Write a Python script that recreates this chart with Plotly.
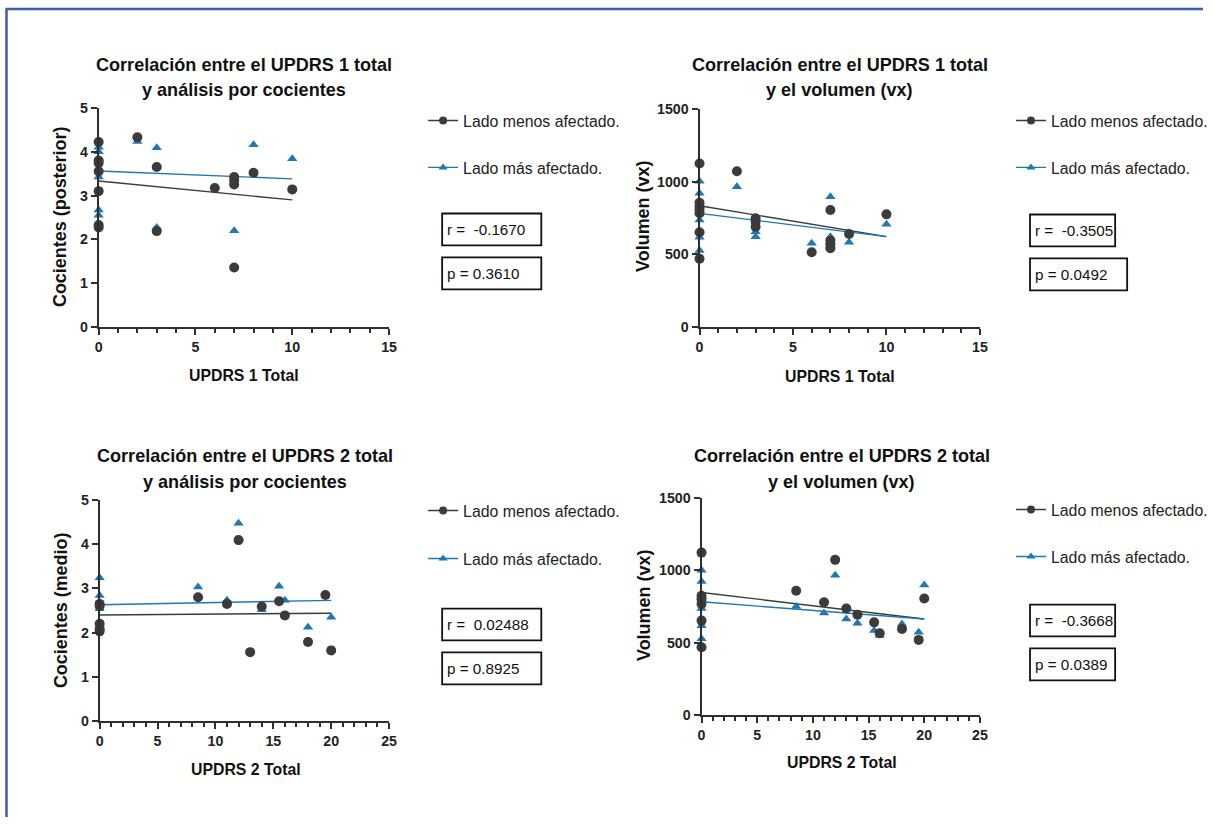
import plotly.graph_objects as go

# ---- data -------------------------------------------------------------
# Panel 1: UPDRS 1 total vs cocientes (posterior)
p1_menos_x = [0, 0, 0, 0, 0, 0, 0, 2, 3, 3, 6, 7, 7, 7, 7, 8, 10]
p1_menos_y = [4.22, 3.80, 3.74, 3.55, 3.10, 2.33, 2.27, 4.33, 3.65, 2.19, 3.17, 3.42, 3.35, 3.25, 1.36, 3.52, 3.14]
p1_mas_x = [0, 0, 0, 0, 0, 2, 3, 3, 7, 8, 10]
p1_mas_y = [4.10, 4.00, 3.42, 2.67, 2.55, 4.23, 4.09, 2.27, 2.20, 4.16, 3.84]

# Panel 2: UPDRS 1 total vs volumen (vx)
p2_menos_x = [0, 0, 0, 0, 0, 0, 0, 2, 3, 3, 3, 6, 7, 7, 7, 7, 8, 10]
p2_menos_y = [1124, 855, 827, 805, 782, 652, 470, 1071, 748, 725, 690, 515, 805, 595, 570, 543, 640, 775]
p2_mas_x = [0, 0, 0, 0, 0, 2, 3, 3, 6, 7, 7, 7, 8, 10]
p2_mas_y = [1003, 919, 736, 618, 527, 964, 656, 622, 577, 896, 622, 560, 584, 707]

# Panel 3: UPDRS 2 total vs cocientes (medio)
p3_menos_x = [0, 0, 0, 0, 0, 8.5, 11, 12, 13, 14, 15.5, 16, 18, 19.5, 20]
p3_menos_y = [2.65, 2.60, 2.20, 2.09, 2.03, 2.80, 2.65, 4.09, 1.56, 2.59, 2.71, 2.39, 1.79, 2.85, 1.60]
p3_mas_x = [0, 0, 0, 8.5, 11, 12, 14, 15.5, 16, 18, 20]
p3_mas_y = [3.24, 2.84, 2.54, 3.03, 2.73, 4.47, 2.52, 3.05, 2.73, 2.12, 2.35]

# Panel 4: UPDRS 2 total vs volumen (vx)
p4_menos_x = [0, 0, 0, 0, 0, 0, 8.5, 11, 12, 13, 14, 15.5, 16, 18, 19.5, 20]
p4_menos_y = [1122, 824, 801, 767, 653, 469, 859, 779, 1072, 737, 694, 641, 566, 595, 520, 806]
p4_mas_x = [0, 0, 0, 0, 0, 8.5, 11, 12, 13, 14, 15.5, 16, 18, 19.5, 20]
p4_mas_y = [1001, 923, 737, 618, 527, 751, 705, 966, 664, 634, 584, 550, 630, 573, 898]

# Linear fits (intercept, slope) per panel: [menos afectado, más afectado]
fit_intercepts = [[3.33, 3.56], [834, 782], [2.40, 2.63], [847, 783]]
fit_slopes = [[-0.043, -0.018], [-21.2, -16.0], [0.002, 0.005], [-9.15, -5.95]]
fit_x_max = [10, 10, 20, 20]

r_values = ["-0.1670", "-0.3505", "0.02488", "-0.3668"]
p_values = ["0.3610", "0.0492", "0.8925", "0.0389"]

titles = [
    ("Correlación entre el UPDRS 1 total", "y análisis por cocientes"),
    ("Correlación entre el UPDRS 1 total", "y el volumen (vx)"),
    ("Correlación entre el UPDRS 2 total", "y análisis por cocientes"),
    ("Correlación entre el UPDRS 2 total", "y el volumen (vx)"),
]
x_titles = ["UPDRS 1 Total", "UPDRS 1 Total", "UPDRS 2 Total", "UPDRS 2 Total"]
y_titles = ["Cocientes (posterior)", "Volumen (vx)", "Cocientes (medio)", "Volumen (vx)"]
x_ranges = [[0, 15], [0, 15], [0, 25], [0, 25]]
y_ranges = [[0, 5], [0, 1500], [0, 5], [0, 1500]]
y_dticks = [1, 500, 1, 500]
series_names = ["Lado menos afectado.", "Lado más afectado."]

# ---- layout geometry (pixels on the page) ----------------------------
W, H = 1213, 825
# the page offsets and slightly shrinks the figure; positions below are
# given in page pixels and converted back to figure pixels
SX, OX = 0.987, 3.5
SY, OY = 0.983, 6.0
FS = 1.0 / 0.985   # font compensation for the same shrink

plot_boxes = [  # left, right, top, bottom
    (98, 388, 106, 326),
    (698, 978, 107, 326),
    (99, 388, 499, 721),
    (700, 978, 497, 715),
]
title_pos = [(243, 63, 88), (838, 63, 88), (244, 455, 481), (840, 455, 481)]
xtitle_pos = [(243, 374), (838, 375), (245, 769), (840, 762)]
ytitle_pos = [(60, 215), (642, 215), (60, 610), (642, 605)]
legend_pos = [(463, 119, 166), (1050, 119, 166), (463, 510, 558), (1050, 509, 556)]
box_pos = [  # left, r-box right, p-box right, r top, p top
    (441, 540, 540, 212, 256),
    (1028, 1113, 1125, 213, 257),
    (441, 540, 540, 608, 652),
    (1028, 1113, 1113, 604, 648),
]

BLACK = "#3b3b3b"
BLUE = "#1f77b4"
AXIS = "#2e2e2e"
FRAME = "#3a5ea8"
FONT = "Liberation Sans"


def px(x):
    return ((x - OX) / SX) / W


def py(y):
    return 1 - ((y - OY) / SY) / H


panels = [
    (p1_menos_x, p1_menos_y, p1_mas_x, p1_mas_y),
    (p2_menos_x, p2_menos_y, p2_mas_x, p2_mas_y),
    (p3_menos_x, p3_menos_y, p3_mas_x, p3_mas_y),
    (p4_menos_x, p4_menos_y, p4_mas_x, p4_mas_y),
]

fig = go.Figure()
annotations = []
shapes = []
layout_axes = {}

for i, (mx, my, bx, by) in enumerate(panels):
    n = i + 1
    xa = "x" if n == 1 else f"x{n}"
    ya = "y" if n == 1 else f"y{n}"
    xkey = "xaxis" if n == 1 else f"xaxis{n}"
    ykey = "yaxis" if n == 1 else f"yaxis{n}"
    l, r, t, b = plot_boxes[i]

    # fitted lines
    for k, col in enumerate([BLACK, BLUE]):
        x0, x1 = 0, fit_x_max[i]
        a, s = fit_intercepts[i][k], fit_slopes[i][k]
        fig.add_trace(go.Scatter(
            x=[x0, x1], y=[a + s * x0, a + s * x1], mode="lines",
            line=dict(color=col, width=1.4), xaxis=xa, yaxis=ya,
            showlegend=False, hoverinfo="skip", cliponaxis=False))

    # points: más afectado underneath, menos afectado on top
    fig.add_trace(go.Scatter(
        x=bx, y=by, mode="markers", xaxis=xa, yaxis=ya, showlegend=False,
        marker=dict(symbol="triangle-up", size=9, color=BLUE), cliponaxis=False))
    fig.add_trace(go.Scatter(
        x=mx, y=my, mode="markers", xaxis=xa, yaxis=ya, showlegend=False,
        marker=dict(symbol="circle", size=10, color=BLACK), cliponaxis=False))

    # legend entries, one legend per row
    lx, ly1, ly2 = legend_pos[i]
    for k, (name, col, sym, msz, ly) in enumerate([
        (series_names[0], BLACK, "circle", 8, ly1),
        (series_names[1], BLUE, "triangle-up", 8, ly2),
    ]):
        lg_idx = 2 * i + k + 1
        lg_key = "legend" if lg_idx == 1 else f"legend{lg_idx}"
        fig.add_trace(go.Scatter(
            x=[None], y=[None], mode="lines+markers", name=name,
            line=dict(color=col, width=1.4),
            marker=dict(symbol=sym, size=msz, color=col),
            xaxis=xa, yaxis=ya, legend=lg_key, showlegend=True))
        layout_axes[lg_key] = dict(
            x=px(lx - 41), y=py(ly), xanchor="left", yanchor="middle",
            bgcolor="rgba(0,0,0,0)", borderwidth=0, itemwidth=30,
            font=dict(family=FONT, size=15.6 * FS, color="#222222"))

    tickfont = dict(family=FONT, size=14 * FS, color="#222222", weight="bold")
    layout_axes[xkey] = dict(
        domain=[px(l), px(r)], range=x_ranges[i], anchor=ya,
        showline=True, linecolor=AXIS, linewidth=2, showgrid=False, zeroline=False,
        ticks="outside", ticklen=6, tickwidth=2, tickcolor=AXIS, dtick=5, tick0=0,
        tickfont=tickfont,
        minor=dict(ticks="outside", ticklen=4, tickwidth=1.5, tickcolor=AXIS, dtick=1, showgrid=False))
    layout_axes[ykey] = dict(
        domain=[py(b), py(t)], range=y_ranges[i], anchor=xa,
        showline=True, linecolor=AXIS, linewidth=2, showgrid=False, zeroline=False,
        ticks="outside", ticklen=6, tickwidth=2, tickcolor=AXIS, dtick=y_dticks[i], tick0=0,
        tickfont=tickfont)

    # titles
    tx, ty1, ty2 = title_pos[i]
    for txt, ty in [(titles[i][0], ty1), (titles[i][1], ty2)]:
        annotations.append(dict(
            text=txt, x=px(tx), y=py(ty), xref="paper", yref="paper",
            xanchor="center", yanchor="middle", showarrow=False,
            font=dict(family=FONT, size=17.8 * FS, color="#111111", weight="bold")))
    xx, xy = xtitle_pos[i]
    annotations.append(dict(
        text=x_titles[i], x=px(xx), y=py(xy), xref="paper", yref="paper",
        xanchor="center", yanchor="middle", showarrow=False,
        font=dict(family=FONT, size=15.6 * FS, color="#111111", weight="bold")))
    yx, yy = ytitle_pos[i]
    annotations.append(dict(
        text=y_titles[i], x=px(yx), y=py(yy), xref="paper", yref="paper",
        xanchor="center", yanchor="middle", showarrow=False, textangle=-90,
        font=dict(family=FONT, size=17.7 * FS, color="#111111", weight="bold")))

    # r / p boxes
    bl, rr, pr, rt, pt = box_pos[i]
    for txt, right, top in [(f"r =  {r_values[i]}", rr, rt), (f"p = {p_values[i]}", pr, pt)]:
        shapes.append(dict(type="rect", xref="paper", yref="paper",
                           x0=px(bl), x1=px(right), y0=py(top + 32), y1=py(top),
                           line=dict(color="#111111", width=1.8)))
        annotations.append(dict(
            text=txt, x=px(bl + 3), y=py(top + 16), xref="paper", yref="paper",
            xanchor="left", yanchor="middle", showarrow=False,
            font=dict(family=FONT, size=15.0 * FS, color="#111111")))

# page frame along the top and left edges
shapes.append(dict(type="line", xref="paper", yref="paper",
                   x0=px(5), x1=1, y0=py(7), y1=py(7), line=dict(color=FRAME, width=2.5)))
shapes.append(dict(type="line", xref="paper", yref="paper",
                   x0=px(6), x1=px(6), y0=py(7), y1=0, line=dict(color=FRAME, width=2.5)))

fig.update_layout(
    width=W, height=H, margin=dict(l=0, r=0, t=0, b=0),
    paper_bgcolor="white", plot_bgcolor="white",
    annotations=annotations, shapes=shapes,
    font=dict(family=FONT),
    **layout_axes,
)

fig.write_html("out.html")
